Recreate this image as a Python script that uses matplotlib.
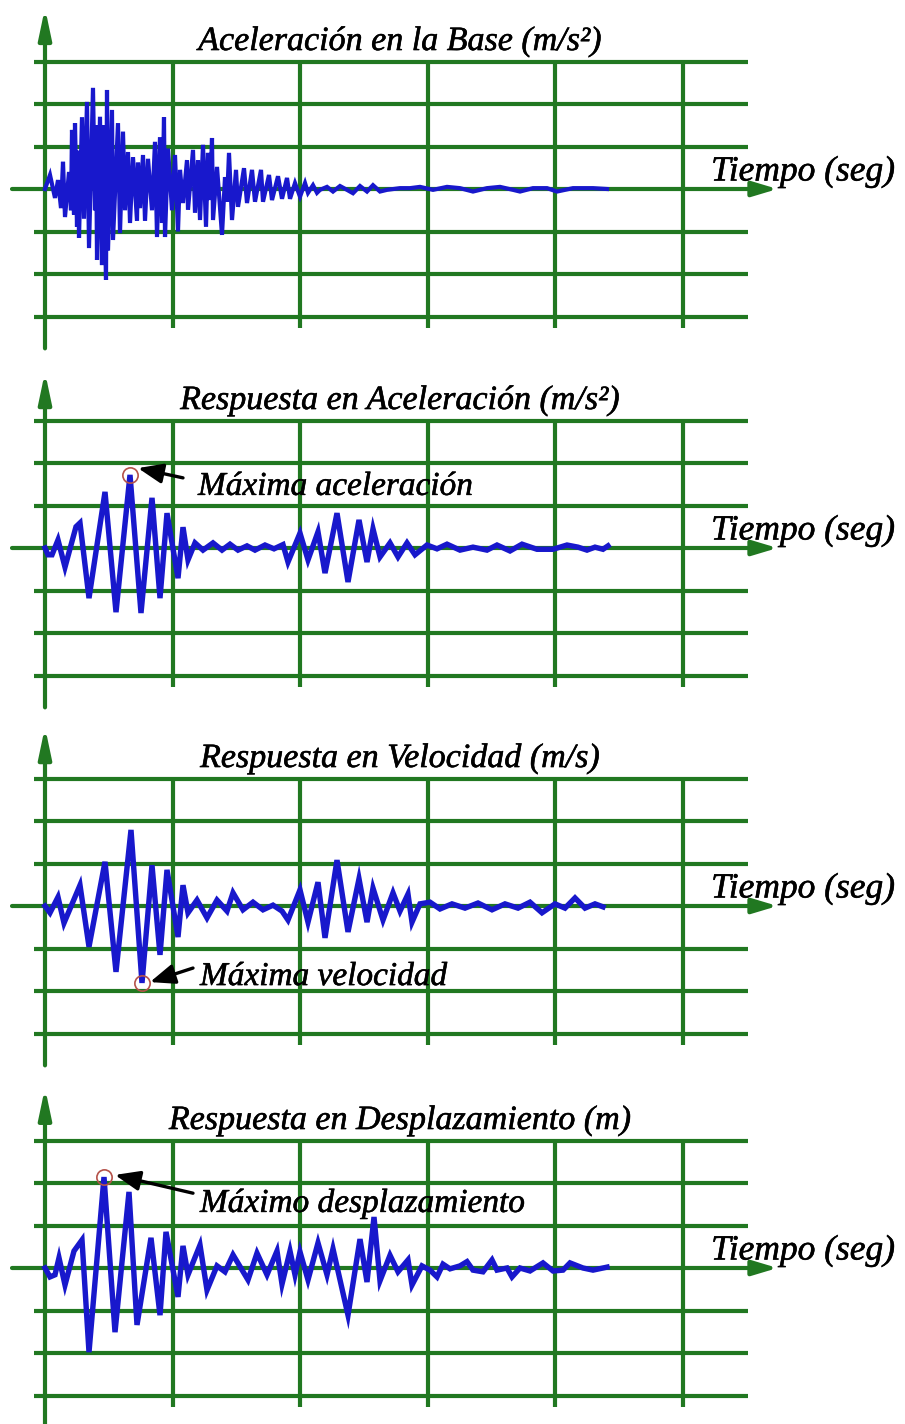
import matplotlib
matplotlib.use('Agg')
import matplotlib.pyplot as plt
import matplotlib.patheffects as pe
import numpy as np

# ---------------- data (time in s, amplitude in grid units) ----------------
t_base = [0.00,0.20,0.40,0.52,0.64,0.72,0.80,0.96,1.04,1.08,1.16,1.20,1.28,1.32,1.36,1.48,1.56,1.68,1.76,1.92,
          2.00,2.04,2.08,2.20,2.28,2.32,2.44,2.48,2.52,2.68,2.72,2.92,3.00,3.12,3.20,3.32,3.40,3.52,3.68,3.72,
          3.80,3.92,4.00,4.12,4.28,4.40,4.48,4.60,4.68,4.76,4.80,4.92,5.08,5.20,5.32,5.40,5.52,5.68,5.72,5.92,
          6.00,6.12,6.20,6.32,6.44,6.52,6.60,6.68,6.72,6.88,7.08,7.20,7.28,7.36,7.48,7.64,7.72,7.96,8.08,8.28,
          8.40,8.64,8.72,8.96,9.08,9.32,9.48,9.68,9.80,10.00,10.20,10.40,10.52,10.72,10.88,11.00,11.28,11.52,11.80,12.08,
          12.32,12.60,12.88,13.12,13.40,13.68,14.20,14.60,15.00,15.52,16.08,16.60,17.12,17.68,18.20,18.72,19.00,19.52,20.08,20.48,
          21.12,21.92,22.48]
acc_base = [0.0,0.33,-0.21,0.21,-0.45,0.64,-0.66,0.40,-0.50,1.39,-0.60,1.55,-0.89,0.90,-1.15,1.69,-0.70,2.05,-1.39,2.38,
            -0.50,1.50,-1.67,1.70,-1.79,1.50,-2.14,2.33,-1.45,1.86,-1.20,1.55,-1.04,1.35,-0.50,0.87,-0.80,0.75,-0.75,0.62,
            -0.45,0.80,-0.75,0.71,-0.50,1.11,-1.13,1.22,-0.80,1.69,-1.13,0.95,-0.50,0.80,-1.00,0.45,-0.33,0.68,-0.49,0.92,
            -0.56,0.68,-0.73,1.04,-0.89,0.85,-0.26,1.20,-0.73,0.52,-1.08,0.28,-0.30,0.85,-0.73,0.45,-0.42,0.49,-0.33,0.45,
            -0.30,0.45,-0.30,0.33,-0.26,0.30,-0.23,0.26,-0.23,0.14,-0.18,0.14,-0.09,0.09,-0.09,-0.02,0.05,-0.06,0.07,-0.02,
            -0.10,0.07,-0.06,0.09,-0.06,-0.02,0.02,0.02,0.05,-0.02,0.05,0.02,-0.06,0.02,0.05,-0.02,-0.06,0.02,0.02,-0.06,
            0.02,0.02,0.00]

t_acc = [0.00,0.12,0.28,0.52,0.80,1.24,1.40,1.76,2.40,2.84,3.40,3.84,4.28,4.60,4.88,5.32,5.52,5.72,6.00,6.32,
         6.72,7.08,7.40,7.72,8.08,8.40,8.80,9.16,9.52,9.72,10.20,10.52,10.92,11.20,11.68,12.12,12.56,12.88,13.12,13.40,
         13.80,14.12,14.48,14.80,15.28,15.68,16.08,16.60,17.12,17.68,18.08,18.60,19.08,19.68,20.32,20.88,21.32,21.68,22.00,22.32,
         22.52]
acc_resp = [0.0,-0.16,-0.16,0.19,-0.45,0.50,0.59,-1.18,1.32,-1.51,1.72,-1.53,1.18,-1.18,0.82,-0.71,0.49,-0.28,0.12,-0.05,
            0.12,-0.05,0.09,-0.05,0.05,-0.05,0.07,-0.02,0.08,-0.33,0.35,-0.28,0.38,-0.59,0.82,-0.80,0.66,-0.33,0.45,-0.21,
            0.12,-0.21,0.12,-0.16,0.07,-0.02,0.09,-0.05,0.02,-0.05,0.07,-0.07,0.09,-0.03,-0.03,0.07,0.02,-0.05,0.02,-0.03,
            0.05]

t_vel = [0.00,0.20,0.52,0.76,1.40,1.76,2.40,2.84,3.44,3.88,4.28,4.60,4.88,5.32,5.52,5.72,6.08,6.48,6.88,7.28,
         7.52,7.92,8.32,8.72,9.12,9.48,9.72,10.20,10.52,10.92,11.20,11.68,12.12,12.56,12.88,13.12,13.52,13.92,14.20,14.52,
         14.68,15.00,15.40,15.80,16.28,16.80,17.32,17.88,18.40,18.92,19.40,19.88,20.40,20.80,21.20,21.60,22.00,22.32]
vel_resp = [0.0,-0.16,0.21,-0.40,0.49,-0.96,1.04,-1.55,1.79,-1.81,0.96,-1.15,0.85,-0.73,0.49,-0.16,0.14,-0.28,0.14,-0.12,
            0.31,-0.09,0.09,-0.09,0.02,-0.12,-0.33,0.38,-0.38,0.56,-0.75,1.08,-0.61,0.64,-0.38,0.42,-0.33,0.31,-0.12,0.28,
            -0.38,0.05,0.09,-0.07,0.05,-0.05,0.07,-0.09,0.05,-0.05,0.09,-0.16,0.05,-0.05,0.19,-0.05,0.05,-0.02]

t_dis = [0.00,0.20,0.40,0.56,0.80,1.16,1.48,1.76,2.36,2.80,3.36,3.68,4.24,4.60,4.84,5.32,5.52,5.72,6.20,6.48,
         6.88,7.20,7.52,8.12,8.48,8.88,9.28,9.48,9.80,10.00,10.20,10.52,10.92,11.28,11.52,12.12,12.60,12.88,13.16,13.40,
         13.80,14.12,14.52,14.68,15.08,15.40,15.68,15.92,16.20,16.60,16.88,17.12,17.52,17.88,18.08,18.48,18.68,19.00,19.40,19.92,
         20.32,20.72,21.00,21.52,21.92,22.48]
dis_resp = [0.0,-0.21,-0.16,0.24,-0.40,0.40,0.66,-1.98,2.14,-1.51,1.79,-1.34,0.71,-1.11,0.85,-0.68,0.52,-0.16,0.54,-0.52,
            0.05,-0.09,0.31,-0.28,0.35,-0.16,0.40,-0.38,0.40,-0.16,0.38,-0.28,0.59,-0.16,0.45,-1.11,0.68,-0.33,1.20,-0.30,
            0.30,-0.09,0.19,-0.40,0.05,-0.05,-0.21,0.09,-0.02,0.05,0.15,-0.05,-0.09,0.19,-0.05,0.0,-0.21,0.0,-0.07,0.12,
            -0.07,-0.05,0.12,0.0,-0.05,0.02]

titles = ["Aceleración en la Base (m/s²)",
          "Respuesta en Aceleración (m/s²)",
          "Respuesta en Velocidad (m/s)",
          "Respuesta en Desplazamiento (m)"]
time_label = "Tiempo (seg)"
peak_labels = [None, "Máxima aceleración", "Máxima velocidad", "Máximo desplazamiento"]

# ---------------- layout / style ----------------
W, H = 905, 1424
fig = plt.figure(figsize=(W / 100, H / 100), dpi=100)
fig.patch.set_facecolor('white')

GREEN = '#217821'
BLUE = '#1818cc'
S_PER_PX = 0.04      # seconds per pixel horizontally
PX_PER_UNIT = 42.5   # pixels per amplitude unit
X0 = 45              # pixel of t = 0
GRID_DT = 5.1        # vertical grid spacing (s)
STROKE = [pe.withStroke(linewidth=0.4, foreground='black')]
BASEFONT = dict(family='Liberation Serif', style='italic', color='black', path_effects=STROKE)

series = [(t_base, acc_base), (t_acc, acc_resp), (t_vel, vel_resp), (t_dis, dis_resp)]
zeros = [189, 548, 906, 1268]
bands = [(0, 358), (358, 718), (718, 1078), (1078, 1424)]
sig_lw = [3.0, 3.9, 3.9, 3.9]
yaxis_tip = [4.26, 4.14, 4.21, 4.24]
mark_kind = [None, 'max', 'min', 'max']
# arrow (tail, head) and label anchor per annotated panel, data coords
arrows = [None,
          ((5.52, 1.65), (3.72, 1.88), (6.12, 1.25)),
          ((5.92, -1.46), (4.20, -1.79), (6.20, -1.86)),
          ((5.92, 1.76), (2.80, 2.19), (6.20, 1.32))]

for i, ((t, y), zero, (top, bot)) in enumerate(zip(series, zeros, bands)):
    ax = fig.add_axes([0, 1 - bot / H, 1, (bot - top) / H])
    ax.set_xlim(-X0 * S_PER_PX, (W - X0) * S_PER_PX)
    ylo = (zero - bot) / PX_PER_UNIT
    ax.set_ylim(ylo, (zero - top) / PX_PER_UNIT)
    ax.axis('off')

    # horizontal grid lines
    for k in [-3, -2, -1, 1, 2, 3]:
        ax.plot([-0.44, 28.12], [k, k], color=GREEN, lw=3, solid_capstyle='butt', zorder=1)
    # vertical grid lines
    for k in range(1, 6):
        ax.plot([k * GRID_DT] * 2, [3, -3.27], color=GREEN, lw=3, solid_capstyle='butt', zorder=1)
    # time axis with arrow
    ax.annotate('', xy=(29.3, 0), xytext=(-1.32, 0),
                arrowprops=dict(arrowstyle='-|>,head_length=1.5,head_width=0.45', color=GREEN,
                                lw=3, shrinkA=0, shrinkB=0, mutation_scale=10), zorder=1)
    # vertical axis with arrow
    ybot = -3.75 if i < 3 else ylo
    ax.annotate('', xy=(0, yaxis_tip[i]), xytext=(0, ybot),
                arrowprops=dict(arrowstyle='-|>,head_length=1.8,head_width=0.38', color=GREEN,
                                lw=3, shrinkA=0, shrinkB=0, mutation_scale=10), zorder=1)

    # signal
    ax.plot(t, y, color=BLUE, lw=sig_lw[i], solid_joinstyle='miter', zorder=3)

    # titles
    ax.text(14.2, 3.27, titles[i], ha='center', va='baseline', size=24.5, **BASEFONT, zorder=5)
    ax.text(30.32, 0.2, time_label, ha='center', va='baseline', size=25.5, **BASEFONT, zorder=5)

    # peak annotations
    if mark_kind[i] is not None:
        arr = np.asarray(y)
        idx = int(arr.argmax() if mark_kind[i] == 'max' else arr.argmin())
        ax.plot(t[idx], y[idx], 'o', mfc='none', mec='#b5524a', ms=11, mew=1.2, zorder=4)
        tail, head, lab = arrows[i]
        ax.annotate('', xy=head, xytext=tail,
                    arrowprops=dict(arrowstyle='-|>,head_length=1.5,head_width=0.6', color='black',
                                    lw=2.4, shrinkA=0, shrinkB=0, mutation_scale=10), zorder=5)
        ax.text(lab[0], lab[1], peak_labels[i], ha='left', va='baseline', size=24, **BASEFONT, zorder=5)

fig.savefig('out.png', dpi=100, facecolor='white')
